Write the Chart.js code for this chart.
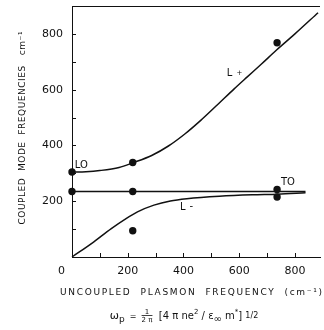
<!DOCTYPE html>
<html lang="en">
<head>
<meta charset="UTF-8">
<title>Coupled mode frequencies</title>
<script src="https://cdn.jsdelivr.net/npm/chart.js"></script>
<style>
  html, body { margin: 0; padding: 0; background: #fff; }
  #wrap { width: 324px; height: 330px; }
</style>
</head>
<body>
<div id="wrap"><canvas id="chart"></canvas></div>
<script>
// upper branch (L+)
const lPlusX = [0, 50, 100, 169, 219, 286, 346, 406, 462, 522, 582, 628, 680, 734, 800, 883];
const lPlusY = [305, 306, 310, 321, 338, 364, 398, 442, 490, 546, 603, 645, 692, 742, 800, 876];

// lower branch (L-)
const lMinusX = [0, 71, 141, 194, 235, 294, 353, 412, 529, 647, 738, 838];
const lMinusY = [0, 49, 102, 138, 162, 186, 201, 209, 218, 223, 225, 230];

// TO phonon line
const toX = [0, 838];
const toY = [235, 235];

// measured points
const measX = [0, 0, 218, 218, 218, 736, 736, 736];
const measY = [305, 235, 339, 235, 94, 768, 242, 215];

// tick marks every 100, labels every 200
const xTickMarks = [0, 100, 200, 300, 400, 500, 600, 700, 800];
const yTickMarks = [0, 100, 200, 300, 400, 500, 600, 700, 800, 900];
const xTickLabels = [0, 200, 400, 600, 800];
const yTickLabels = [200, 400, 600, 800];

const xTitle = 'UNCOUPLED  PLASMON  FREQUENCY  (cm\u207B\u00B9)';
const yTitle = 'COUPLED  MODE  FREQUENCIES   cm\u207B\u00B9';

const FONT = '"DejaVu Sans", sans-serif';

const toPts = (xs, ys) => xs.map((x, i) => ({ x: x, y: ys[i] }));

// fit a string to a given width by spreading the letters
function spreadText(ctx, text, cx, cy, width) {
  ctx.letterSpacing = '0px';
  const w = ctx.measureText(text).width;
  const sp = (width - w) / (text.length - 1);
  ctx.letterSpacing = sp + 'px';
  ctx.textAlign = 'left';
  ctx.fillText(text, cx - width / 2, cy);
  ctx.letterSpacing = '0px';
}

function drawFormula(ctx, cx, cy) {
  const runs = [
    { t: '\u03C9', s: 11, dy: 0 }, { t: 'p', s: 9, dy: 3 }, { t: '  =  ', s: 8, dy: 0 },
    { frac: ['1', '2 \u03C0'], s: 7 },
    { t: '  [4 \u03C0 ne', s: 10, dy: 0 }, { t: '2', s: 7, dy: -5 }, { t: ' / \u03B5', s: 10, dy: 0 },
    { t: '\u221E', s: 10, dy: 3 }, { t: ' m', s: 10, dy: 0 }, { t: '*', s: 7, dy: -5 },
    { t: '] ', s: 10, dy: 0 }, { t: '1/2', s: 8, dy: -1 }
  ];
  let total = 0;
  runs.forEach(r => {
    ctx.font = r.s + 'px ' + FONT;
    r.w = r.frac ? Math.max(ctx.measureText(r.frac[0]).width, ctx.measureText(r.frac[1]).width) : ctx.measureText(r.t).width;
    total += r.w;
  });
  let x = cx - total / 2;
  ctx.textBaseline = 'alphabetic';
  runs.forEach(r => {
    ctx.font = r.s + 'px ' + FONT;
    if (r.frac) {
      ctx.textAlign = 'center';
      ctx.fillText(r.frac[0], x + r.w / 2, cy - 5);
      ctx.fillText(r.frac[1], x + r.w / 2, cy + 3);
      ctx.beginPath();
      ctx.lineWidth = 0.8;
      ctx.moveTo(x, cy - 3.5);
      ctx.lineTo(x + r.w, cy - 3.5);
      ctx.stroke();
    } else {
      ctx.textAlign = 'left';
      ctx.fillText(r.t, x, cy + r.dy);
    }
    x += r.w;
  });
}

const decorations = {
  id: 'decorations',
  afterDraw(chart) {
    const ctx = chart.ctx;
    const area = chart.chartArea;
    const xs = chart.scales.x;
    const ys = chart.scales.y;
    ctx.save();
    ctx.strokeStyle = '#111';
    ctx.fillStyle = '#111';
    ctx.lineWidth = 1;

    // top frame line
    ctx.beginPath();
    ctx.moveTo(area.left, area.top + 0.5);
    ctx.lineTo(area.right, area.top + 0.5);
    ctx.stroke();

    // inward tick marks
    ctx.beginPath();
    xs.ticks.forEach(t => {
      const px = Math.round(xs.getPixelForValue(t.value)) + 0.5;
      if (t.value === 0) return;
      ctx.moveTo(px, area.bottom);
      ctx.lineTo(px, area.bottom - 4);
    });
    ys.ticks.forEach(t => {
      const py = Math.round(ys.getPixelForValue(t.value)) + 0.5;
      if (t.value === 0 || t.value === 900) return;
      ctx.moveTo(area.left, py);
      ctx.lineTo(area.left + 4, py);
    });
    ctx.stroke();

    // curve labels
    ctx.font = '10px ' + FONT;
    ctx.textBaseline = 'middle';
    ctx.textAlign = 'left';
    ctx.fillText('LO', xs.getPixelForValue(10), ys.getPixelForValue(327));
    ctx.fillText('TO', xs.getPixelForValue(750), ys.getPixelForValue(268));
    ctx.fillText('L', xs.getPixelForValue(555), ys.getPixelForValue(660));
    ctx.font = '7px ' + FONT;
    ctx.fillText('+', xs.getPixelForValue(590), ys.getPixelForValue(660));
    ctx.font = '10px ' + FONT;
    ctx.fillText('L', xs.getPixelForValue(388), ys.getPixelForValue(178));
    ctx.fillText('-', xs.getPixelForValue(422), ys.getPixelForValue(180));

    // axis titles
    ctx.font = '9px ' + FONT;
    ctx.textBaseline = 'middle';
    spreadText(ctx, xTitle, 191, 293, 262);
    ctx.save();
    ctx.translate(23, 128);
    ctx.rotate(-Math.PI / 2);
    spreadText(ctx, yTitle, 0, 0, 193);
    ctx.restore();

    drawFormula(ctx, 184, 319);
    ctx.restore();
  }
};

const lineStyle = {
  showLine: true,
  borderColor: '#111',
  borderWidth: 1.5,
  pointRadius: 0,
  cubicInterpolationMode: 'monotone',
  fill: false,
  clip: false
};

new Chart(document.getElementById('chart'), {
  type: 'scatter',
  data: {
    datasets: [
      Object.assign({ label: 'L+', data: toPts(lPlusX, lPlusY) }, lineStyle),
      Object.assign({ label: 'L-', data: toPts(lMinusX, lMinusY) }, lineStyle),
      Object.assign({ label: 'TO', data: toPts(toX, toY) }, lineStyle),
      {
        label: 'measured',
        data: toPts(measX, measY),
        showLine: false,
        pointRadius: 3.7,
        pointBackgroundColor: '#111',
        pointBorderColor: '#111',
        pointBorderWidth: 0,
        clip: false
      }
    ]
  },
  options: {
    responsive: true,
    maintainAspectRatio: false,
    animation: false,
    layout: { padding: { top: 6, right: 0, left: 0, bottom: 0 } },
    plugins: { legend: { display: false }, tooltip: { enabled: false } },
    scales: {
      x: {
        type: 'linear',
        min: 0,
        max: 890,
        afterBuildTicks: s => { s.ticks = xTickMarks.map(v => ({ value: v })); },
        afterFit: s => { s.height = 73; s.paddingLeft = 0; s.paddingRight = 0; },
        grid: { drawOnChartArea: false, drawTicks: false },
        border: { display: true, color: '#111', width: 1 },
        ticks: {
          autoSkip: false,
          maxRotation: 0,
          minRotation: 0,
          padding: 8,
          color: '#111',
          font: { family: FONT, size: 11 },
          callback: v => xTickLabels.includes(v) ? (v === 0 ? '0      ' : String(v)) : ''
        }
      },
      y: {
        type: 'linear',
        min: 0,
        max: 900,
        afterBuildTicks: s => { s.ticks = yTickMarks.map(v => ({ value: v })); },
        afterFit: s => { s.width = 72; s.paddingTop = 0; s.paddingBottom = 0; },
        grid: { drawOnChartArea: false, drawTicks: false },
        border: { display: true, color: '#111', width: 1 },
        ticks: {
          autoSkip: false,
          padding: 9,
          color: '#111',
          font: { family: FONT, size: 11 },
          callback: v => yTickLabels.includes(v) ? String(v) : ''
        }
      }
    }
  },
  plugins: [decorations]
});
</script>
</body>
</html>
